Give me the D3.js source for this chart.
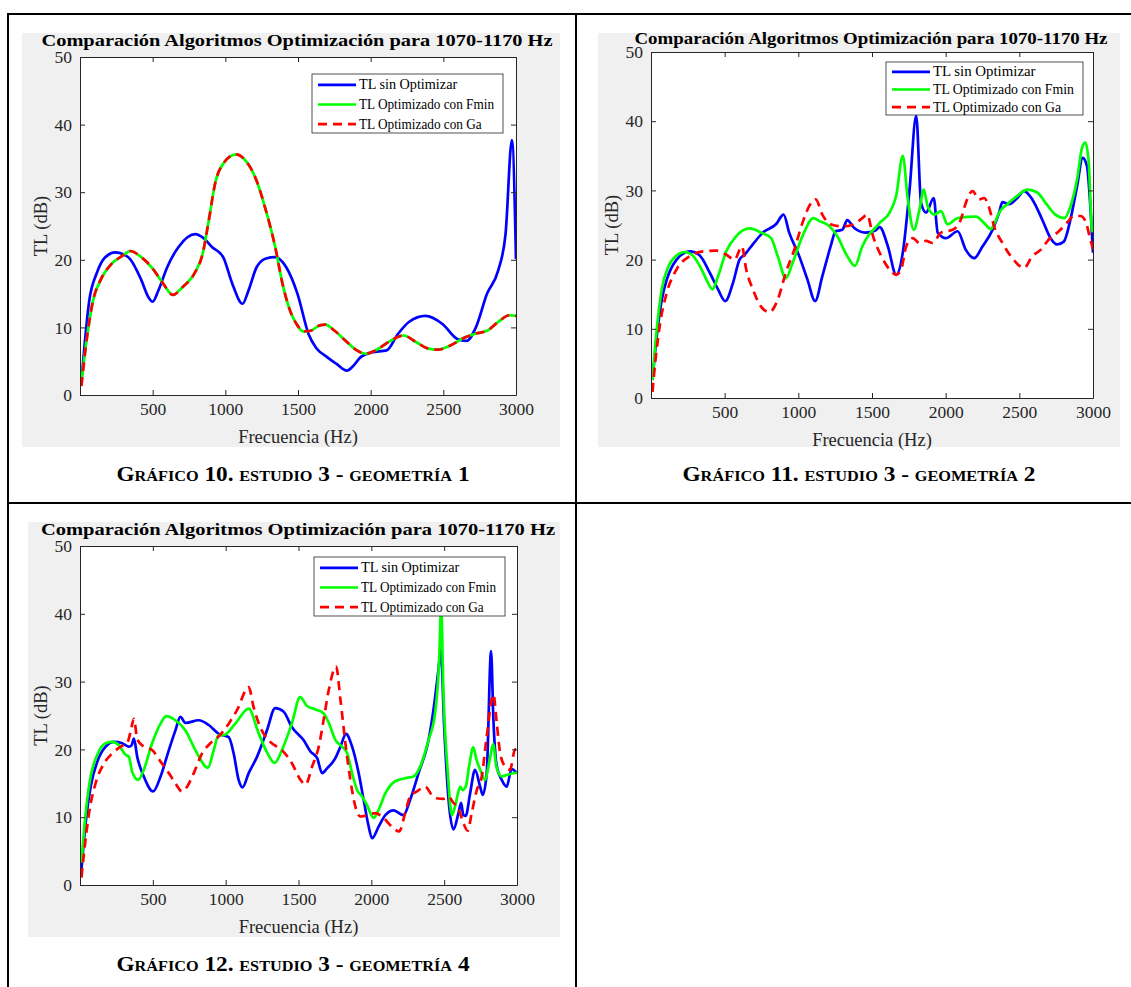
<!DOCTYPE html>
<html><head><meta charset="utf-8">
<script src="https://cdn.jsdelivr.net/npm/d3@7/dist/d3.min.js"></script>
<style>body{margin:0;background:#fff}svg{display:block}</style>
</head><body>
<svg id="root" width="1131" height="987"></svg>
<script>
// ---------- DATA ----------
const titleText = "Comparación Algoritmos Optimización para 1070-1170 Hz";
const xLabel = "Frecuencia (Hz)";
const yLabel = "TL (dB)";
const xTicks = [500, 1000, 1500, 2000, 2500, 3000];
const yTicks = [0, 10, 20, 30, 40, 50];
const seriesNames = ["TL sin Optimizar", "TL Optimizado con Fmin", "TL Optimizado con Ga"];
const captions = ["Gráfico 10. estudio 3 - geometría 1", "Gráfico 11. estudio 3 - geometría 2", "Gráfico 12. estudio 3 - geometría 4"];

// Gráfico 10 (geometría 1): [frequency Hz, TL dB]
const g1Sin = [[10,2],[64,14],[115,18],[170,20.3],[243,21.1],[300,20.8],[345,20.1],[422,17],[470,14.5],[500,13.8],[540,15.5],[600,18.9],[678,21.9],[793,23.8],[850,23.2],[908,21.9],[985,20.4],[1049,16.4],[1118,13.5],[1160,15.5],[1215,18.9],[1280,20.2],[1343,20.4],[1419,18.9],[1496,15],[1573,9],[1624,7],[1700,5.6],[1765,4.6],[1836,3.6],[1880,4.3],[1931,5.6],[2008,6.3],[2110,6.6],[2187,9],[2263,10.8],[2378,11.7],[2494,10.5],[2596,8.3],[2660,8],[2724,10],[2801,15],[2877,18.4],[2928,23.8],[2972,37.7],[3000,20.1]];
const g1Fmin = [[10,2],[51,9],[90,14],[141,17],[217,19.4],[294,20.6],[345,21.3],[422,20.4],[500,18.7],[575,16.4],[639,14.8],[703,15.9],[793,18.2],[844,20.9],[882,25.3],[934,31.7],[985,34.2],[1074,35.6],[1138,34.7],[1215,31.7],[1279,27.3],[1343,21.9],[1394,16.4],[1445,12.5],[1496,10.3],[1535,9.4],[1586,9.5],[1650,10.3],[1688,10.4],[1752,9.5],[1829,8],[1905,6.6],[1969,6.1],[2033,6.6],[2136,8],[2225,8.8],[2315,7.8],[2391,6.9],[2463,6.7],[2545,7.3],[2647,8.5],[2724,9.1],[2801,9.5],[2877,10.8],[2954,11.8],[3000,11.7]];
const g1Ga = [[10,1.3],[51,9],[90,14],[141,17],[217,19.4],[294,20.6],[345,21.3],[422,20.4],[500,18.7],[575,16.4],[639,14.8],[703,15.9],[793,18.2],[844,20.9],[882,25.3],[934,31.7],[985,34.2],[1074,35.6],[1138,34.7],[1215,31.7],[1279,27.3],[1343,21.9],[1394,16.4],[1445,12.5],[1496,10.3],[1535,9.4],[1586,9.5],[1650,10.3],[1688,10.4],[1752,9.5],[1829,8],[1905,6.6],[1969,6.1],[2033,6.6],[2136,8],[2225,8.8],[2315,7.8],[2391,6.9],[2463,6.7],[2545,7.3],[2647,8.5],[2724,9.1],[2801,9.5],[2877,10.8],[2954,11.8],[3000,11.7]];

// Gráfico 11 (geometría 2)
const g2Sin = [[10,2.6],[39,8.9],[73,14.2],[107,17.1],[174,20],[264,21.2],[331,20.6],[399,18.1],[455,15.7],[504,14],[556,16.6],[601,20],[635,20.7],[691,22.2],[759,23.9],[848,25.1],[900,26.5],[938,23.9],[1006,20.5],[1062,17.1],[1114,14],[1163,17.6],[1219,21.9],[1253,24.1],[1298,24.3],[1332,25.7],[1378,24.6],[1456,23.9],[1523,24.2],[1552,24.7],[1608,21.9],[1664,17.8],[1709,21],[1755,30.1],[1800,40.8],[1833,28.2],[1867,26.8],[1919,28.9],[1946,23.9],[2002,23.1],[2081,24.1],[2137,21.4],[2194,20.2],[2250,21.9],[2318,24.3],[2363,26.8],[2385,28.3],[2430,28],[2486,28.9],[2532,29.9],[2588,28.7],[2655,25.8],[2712,23.1],[2757,22.2],[2802,22.6],[2847,25.8],[2892,30.6],[2930,34.7],[2959,33.5],[2982,27.7],[3000,21]];
const g2Fmin = [[10,2.6],[39,9.9],[73,15.7],[118,19],[174,20.6],[230,21.1],[287,20.5],[343,18.6],[388,16.6],[417,15.7],[455,17.6],[511,21.2],[579,23.4],[669,24.5],[747,23.9],[815,23.1],[860,20.5],[915,17.3],[961,19.5],[1028,23.4],[1103,26],[1140,25.6],[1208,24.9],[1264,23.4],[1332,20.5],[1384,19.1],[1434,21.9],[1479,23.6],[1523,24.6],[1552,25.3],[1619,26.8],[1664,29.2],[1709,35],[1743,28.7],[1784,24.3],[1822,27.2],[1851,30.1],[1878,27.7],[1923,26.5],[1968,27],[2013,25.1],[2081,26],[2205,26.2],[2261,25.3],[2306,24.4],[2329,25.1],[2363,26.8],[2419,28],[2486,29.2],[2554,30.1],[2622,29.7],[2678,28.2],[2745,26.5],[2806,26],[2847,27.7],[2892,31.6],[2926,36.2],[2948,36.9],[2971,34],[2993,24.3],[3000,24]];
const g2Ga = [[10,0.9],[28,5],[62,10.8],[107,15.2],[174,18.6],[264,20.5],[354,21.2],[444,21.3],[511,20.7],[567,20],[617,21.9],[646,18.6],[691,15.7],[747,13.2],[803,12.4],[860,14.2],[915,18.1],[972,21.4],[1028,25.3],[1073,27.7],[1118,28.7],[1163,26.5],[1219,25.1],[1298,24.8],[1378,25.1],[1434,26],[1467,26.5],[1507,23.4],[1563,20.5],[1631,18.3],[1664,17.8],[1698,18.6],[1732,21.9],[1777,23.1],[1822,22.4],[1867,22.7],[1912,22.4],[1968,23.9],[2047,24.3],[2103,25.8],[2137,28.2],[2182,29.9],[2227,28.7],[2261,28.9],[2295,27.5],[2329,24.8],[2385,22.4],[2453,20.2],[2532,18.8],[2588,20.5],[2644,21.4],[2700,22.9],[2768,24.1],[2835,25.6],[2869,26.3],[2914,26.3],[2948,25.6],[2982,22.9],[3000,21.5]];

// Gráfico 12 (geometría 4)
const g4Sin = [[10,2.3],[39,9.2],[73,14.5],[119,18.2],[176,20.4],[233,21.1],[290,20.9],[336,20.4],[354,20.6],[370,21.6],[393,18.9],[438,16],[502,13.8],[553,16],[610,19.9],[655,22.8],[689,24.8],[724,23.9],[815,24.3],[884,23.6],[952,22.3],[1021,21.8],[1055,19.4],[1089,15.5],[1116,14.4],[1158,16.5],[1215,18.9],[1283,22.8],[1340,26.1],[1397,25.6],[1454,23.3],[1537,21.3],[1582,19.7],[1628,18.7],[1662,16.5],[1696,17.2],[1753,18.7],[1788,20.4],[1826,22.3],[1868,20.4],[1913,16.5],[1947,12.6],[1977,9.1],[2005,6.9],[2050,8.6],[2096,10.3],[2153,11],[2221,10.3],[2267,12.6],[2324,16.5],[2393,21.4],[2427,25.9],[2461,31.8],[2477,34.7],[2500,23.4],[2530,12.6],[2564,8.2],[2598,10.6],[2616,12.1],[2632,10.3],[2648,10.2],[2678,13.5],[2712,17],[2747,14.5],[2765,13.3],[2792,16.5],[2822,34.5],[2838,24.4],[2861,17.5],[2895,15.5],[2929,14.5],[2963,17.1],[3000,16.5]];
const g4Fmin = [[10,3.3],[39,10.6],[73,16],[119,19.2],[176,20.9],[221,21.1],[267,20.6],[313,19.2],[336,18.9],[358,16.7],[399,15.5],[438,17],[495,20.9],[553,23.8],[591,24.9],[655,24.3],[724,22.8],[792,19.9],[879,17.3],[918,19.9],[952,22.1],[986,22.1],[1066,23.8],[1158,26],[1226,22.4],[1283,19.6],[1336,18],[1386,19.9],[1454,23.8],[1511,27.7],[1559,26.4],[1616,25.9],[1673,25.3],[1708,23.9],[1753,21.4],[1799,20.4],[1833,19.5],[1868,16.5],[1902,14],[1936,13.1],[1970,11.8],[2016,9.9],[2050,11.1],[2096,13.5],[2164,15.3],[2244,15.8],[2290,16],[2336,17.5],[2393,21.4],[2438,25.4],[2466,33.3],[2479,41],[2495,28.3],[2525,16.5],[2553,10.3],[2575,11.6],[2610,14.5],[2626,14],[2648,14.5],[2671,17.5],[2700,20.3],[2722,18.5],[2757,16.5],[2779,15.5],[2813,18.5],[2836,20.8],[2858,17.5],[2895,16],[2941,16.3],[3000,16.6]];
const g4Ga = [[10,1.1],[28,4.8],[62,10.6],[107,15],[164,17.9],[221,19.4],[279,20.4],[324,20.9],[347,22.6],[370,24.5],[393,21.5],[438,20.4],[495,19.9],[553,18.2],[610,16.5],[655,15],[701,13.8],[735,14.5],[781,16.5],[838,19.4],[895,20.9],[952,21.9],[1021,23.8],[1078,25.8],[1158,29.2],[1192,26.2],[1237,23.3],[1306,21.1],[1386,19.9],[1454,18],[1514,15.5],[1548,14.8],[1594,17.5],[1639,20.4],[1673,24.4],[1708,28.8],[1758,32.2],[1788,27.3],[1822,20.9],[1856,15.5],[1890,11.6],[1925,10.1],[1970,10.3],[2027,10.6],[2073,10.1],[2141,8.6],[2191,7.9],[2232,10.6],[2267,13.1],[2313,13.8],[2370,14.5],[2415,13.3],[2450,12.8],[2495,12.7],[2530,13],[2564,12.1],[2598,11.3],[2632,9.1],[2662,8],[2689,10.6],[2724,14],[2758,16],[2792,21.9],[2838,28.1],[2861,23.9],[2884,19.5],[2918,17.5],[2952,17],[2987,20],[3000,20]];

// ---------- LAYOUT ----------
const colors = ["#0000ff", "#00ff00", "#ff0000"];
const charts = [
  {data:[g1Sin,g1Fmin,g1Ga], caption:captions[0], bg:[22,33,538,414], plot:[80,516,57,395], titleY:46, titleX:297, titleW:511, legend:[312,74,191,59], capX:293, capY:481},
  {data:[g2Sin,g2Fmin,g2Ga], caption:captions[1], bg:[598,33,522,414], plot:[651,1093,52,398], titleY:44, titleX:871, titleW:473, legend:[886,62,197,53], capX:859, capY:481},
  {data:[g4Sin,g4Fmin,g4Ga], caption:captions[2], bg:[28,522,532,415], plot:[80,517,546,885], titleY:535, titleX:298, titleW:514, legend:[314,557,191,59], capX:293, capY:971}
];

const svg = d3.select("#root");
const serif = "'Liberation Serif', 'Times New Roman', serif";
const axisCol = "#262626";

charts.forEach((c, ci) => {
  const [bx,by,bw,bh] = c.bg;
  const [pl,pr,pt,pb] = c.plot;
  const g = svg.append("g");
  g.append("rect").attr("x",bx).attr("y",by).attr("width",bw).attr("height",bh).attr("fill","#f0f0f0");
  g.append("rect").attr("x",pl).attr("y",pt).attr("width",pr-pl).attr("height",pb-pt).attr("fill","#fff");

  const x = d3.scaleLinear().domain([0,3000]).range([pl,pr]);
  const y = d3.scaleLinear().domain([0,50]).range([pb,pt]);

  const clipId = "clip"+ci;
  g.append("clipPath").attr("id",clipId).append("rect").attr("x",pl).attr("y",pt-2).attr("width",pr-pl).attr("height",pb-pt+2);

  const line = d3.line().x(d=>x(d[0])).y(d=>y(d[1])).curve(d3.curveMonotoneX);
  c.data.forEach((s,si)=>{
    const p = g.append("path").datum(s).attr("d",line).attr("fill","none")
      .attr("stroke",colors[si]).attr("stroke-width",2.7).attr("stroke-linejoin","round")
      .attr("clip-path","url(#"+clipId+")");
    if(si===2) p.attr("stroke-dasharray","9,6");
  });

  // axes (MATLAB box with inward ticks)
  const styleAxis = sel => {
    sel.selectAll(".domain").attr("stroke",axisCol).attr("stroke-width",1);
    sel.selectAll(".tick line").attr("stroke",axisCol);
    sel.selectAll("text").attr("fill",axisCol).attr("font-family",serif).attr("font-size",17.5);
  };
  g.append("g").attr("transform",`translate(0,${pb})`)
    .call(d3.axisBottom(x).tickValues(xTicks).tickSizeInner(-5).tickSizeOuter(0).tickPadding(8).tickFormat(d3.format("d")))
    .call(styleAxis);
  g.append("g").attr("transform",`translate(0,${pt})`)
    .call(d3.axisTop(x).tickValues(xTicks).tickSizeInner(-5).tickSizeOuter(0).tickFormat(""))
    .call(styleAxis);
  g.append("g").attr("transform",`translate(${pl},0)`)
    .call(d3.axisLeft(y).tickValues(yTicks).tickSizeInner(-5).tickSizeOuter(0).tickPadding(8))
    .call(styleAxis);
  g.append("g").attr("transform",`translate(${pr},0)`)
    .call(d3.axisRight(y).tickValues(yTicks).tickSizeInner(-5).tickSizeOuter(0).tickFormat(""))
    .call(styleAxis);

  // title
  g.append("text").attr("x",c.titleX).attr("y",c.titleY).attr("text-anchor","middle")
    .attr("font-family",serif).attr("font-weight","bold").attr("font-size",16).attr("fill","#000")
    .attr("textLength",c.titleW).attr("lengthAdjust","spacingAndGlyphs").text(titleText);
  // x label
  const cx = (pl+pr)/2;
  g.append("text").attr("x",cx).attr("y",pb+48).attr("text-anchor","middle")
    .attr("font-family",serif).attr("font-size",18.5).attr("fill",axisCol).text(xLabel);
  // y label
  g.append("text").attr("transform",`translate(${pl-33},${(pt+pb)/2}) rotate(-90)`).attr("text-anchor","middle")
    .attr("font-family",serif).attr("font-size",18.5).attr("fill",axisCol).text(yLabel);

  // legend
  const [lx,ly,lw,lh] = c.legend;
  const lg = g.append("g");
  lg.append("rect").attr("x",lx).attr("y",ly).attr("width",lw).attr("height",lh)
    .attr("fill","#fff").attr("stroke","#262626").attr("stroke-width",0.8);
  const step = lh/3;
  seriesNames.forEach((n,i)=>{
    const yy = ly + step*(i+0.5) + 1;
    const l = lg.append("line").attr("x1",lx+6).attr("x2",lx+44).attr("y1",yy).attr("y2",yy)
      .attr("stroke",colors[i]).attr("stroke-width",2.7);
    if(i===2) l.attr("stroke-dasharray","9,6");
    lg.append("text").attr("x",lx+47).attr("y",yy+4.5).attr("font-family",serif).attr("font-size",14)
      .attr("fill","#000").attr("textLength", n.length*(lw-56)/22).attr("lengthAdjust","spacingAndGlyphs").text(n);
  });

  // caption
  svg.append("text").attr("x",c.capX).attr("y",c.capY).attr("text-anchor","middle")
    .attr("font-family",serif).attr("font-weight","bold").attr("font-size",20)
    .attr("font-variant","small-caps").attr("fill","#000")
    .attr("textLength",353).attr("lengthAdjust","spacingAndGlyphs").text(c.caption);
});

// table borders
const tb = svg.append("g").attr("stroke","#000").attr("stroke-width",2);
tb.append("line").attr("x1",7).attr("x2",1131).attr("y1",14).attr("y2",14);
tb.append("line").attr("x1",8).attr("x2",8).attr("y1",13).attr("y2",987);
tb.append("line").attr("x1",576).attr("x2",576).attr("y1",13).attr("y2",987);
tb.append("line").attr("x1",7).attr("x2",1131).attr("y1",503).attr("y2",503);
</script>
</body></html>
